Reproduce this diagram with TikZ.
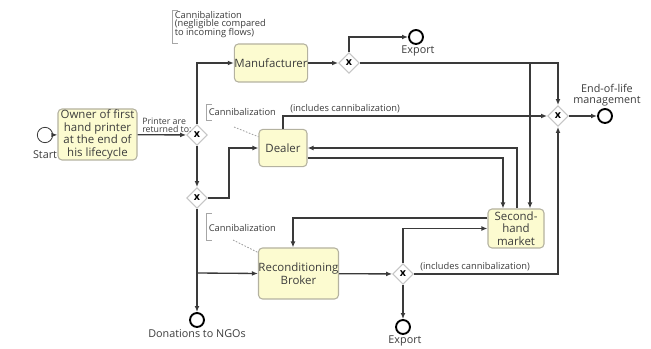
\documentclass[tikz,border=0pt]{standalone}
\usepackage{fontspec}
\setmainfont{Open Sans}
\usetikzlibrary{arrows.meta,shapes.geometric,calc}
\definecolor{boxfill}{HTML}{FCFBD0}
\definecolor{boxline}{HTML}{B4B2A0}
\definecolor{lin}{HTML}{3A3A3A}
\definecolor{txt}{HTML}{3C3C3C}
\begin{document}
\begin{tikzpicture}[x=0.75pt,y=-0.75pt,
  task/.style={draw=boxline, fill=boxfill, rounded corners=3pt, line width=0.8pt,
    align=center, font=\fontsize{8.6}{9.4}\selectfont, text=txt, inner sep=0pt},
  gate/.style={diamond, draw=gray!45, fill=white, line width=0.8pt, minimum size=15.5pt,
    inner sep=0pt, font=\fontsize{8}{8}\selectfont\bfseries},
  startev/.style={circle, draw=lin, fill=white, line width=0.6pt, minimum size=11.5pt, inner sep=0pt},
  endev/.style={circle, draw=black, fill=white, line width=1.4pt, minimum size=10.5pt, inner sep=0pt},
  evlabel/.style={font=\fontsize{8.1}{9.5}\selectfont, text=txt, align=center, inner sep=0pt},
  small/.style={font=\fontsize{7}{8}\selectfont, text=txt, align=left, inner sep=0pt},
  flow/.style={draw=lin, line width=1pt, -{Latex[length=4.5pt,width=3.6pt]}},
  bracket/.style={draw=gray!70, line width=0.6pt},
  assoc/.style={draw=gray!80, line width=0.6pt, dash pattern=on 1.2pt off 1.2pt}
]
\useasboundingbox (0,0) rectangle (651,349);

% events
\node[startev] (start) at (45,135) {};
\node[evlabel, anchor=north] (startl) at (45,150) {Start};
\node[endev] (exp1) at (416,37) {};
\node[evlabel, anchor=north] (exp1l) at (418,46) {Export};
\node[endev] (eolend) at (605,116) {};
\node[evlabel, anchor=south] (eoll) at (607,106) {End-of-life\\[-1.5pt]management};
\node[endev] (exp2) at (403,327) {};
\node[evlabel, anchor=north] (exp2l) at (405,336) {Export};
\node[endev] (don) at (197,320) {};
\node[evlabel, anchor=north] (donl) at (197,329) {Donations to NGOs};

% tasks
\node[task, minimum width=59.25pt, minimum height=38.25pt] (owner) at (97.5,134.5)
  {Owner of first\\hand printer\\at the end of\\his lifecycle};
\node[task, minimum width=54pt, minimum height=28.5pt] (man) at (271,63) {Manufacturer};
\node[task, minimum width=36pt, minimum height=28pt] (dealer) at (283,148) {Dealer};
\node[task, minimum width=42pt, minimum height=29.25pt] (shm) at (516,228.5) {Second-\\hand\\market};
\node[task, minimum width=59.25pt, minimum height=38.25pt] (rb) at (298.5,273.5) {Reconditioning\\Broker};

% gateways
\node[gate] (g1) at (197,135) {x};
\node[gate] (g4) at (197,198) {x};
\node[gate] (g2) at (349,63) {x};
\node[gate] (g3) at (403,274) {x};
\node[gate] (eol) at (558,116) {x};

\coordinate (j1) at (197,273);

% flows
\draw[flow] (start) -- (owner);
\draw[flow] (owner) -- (g1);
\node[small, anchor=south west, font=\fontsize{6.6}{7.5}\selectfont] (prl) at (142,133) {Printer are\\[-1.5pt]returned to:};
\draw[flow] (g1.north) |- (man.west);
\draw[flow] (g1.south) -- (g4.north);
\draw[flow] (g4.east) -- ++(21,0) |- (dealer.west);
\draw[flow] (g4.south) -- (don.north);
\draw[flow] (j1) -- (rb.west);
\draw[flow] (man) -- (g2);
\draw[flow] (g2.north) |- (exp1.west);
\draw[flow] (g2.east) -| (eol.north);
\draw[flow] (g2.east) -| ($(shm.north)+(14,0)$);
\draw[flow] (dealer.north) |- (eol.west);
\node[small, anchor=south west] (incl1) at (290,113) {(includes cannibalization)};
\draw[flow] ($(shm.north)+(1,0)$) |- (dealer.east);
\draw[flow] ($(dealer.east)+(0,10)$) -| ($(shm.north)+(-13,0)$);
\draw[flow] ($(shm.west)+(0,-10.5)$) -| ($(rb.north)+(-5.5,0)$);
\draw[flow] (rb) -- (g3);
\draw[flow] (g3.north) |- (shm.west);
\draw[flow] (g3.east) -| (eol.south);
\node[small, anchor=south west] (incl2) at (420,271) {(includes cannibalization)};
\draw[flow] (g3.south) -- (exp2.north);
\draw[flow] (eol) -- (eolend);

% annotations
\draw[bracket] (178,10) -- (172,10) -- (172,43) -- (178,43);
\node[small, anchor=north west] (an1) at (174.5,11) {Cannibalization\\[-1.6pt](negligible compared\\[-1.6pt]to incoming flows)};
\draw[bracket] (212,104) -- (206,104) -- (206,120) -- (212,120);
\node[small, anchor=west] (an2) at (208.5,112) {Cannibalization};
\draw[assoc] (234,127) -- ($(dealer.north west)+(0,8)$);
\draw[bracket] (212,213) -- (206,213) -- (206,240) -- (212,240);
\node[small, anchor=west] (an3) at (208.5,228) {Cannibalization};
\draw[assoc] (233,240) -- ($(rb.north west)+(0,5)$);
\end{tikzpicture}
\end{document}
